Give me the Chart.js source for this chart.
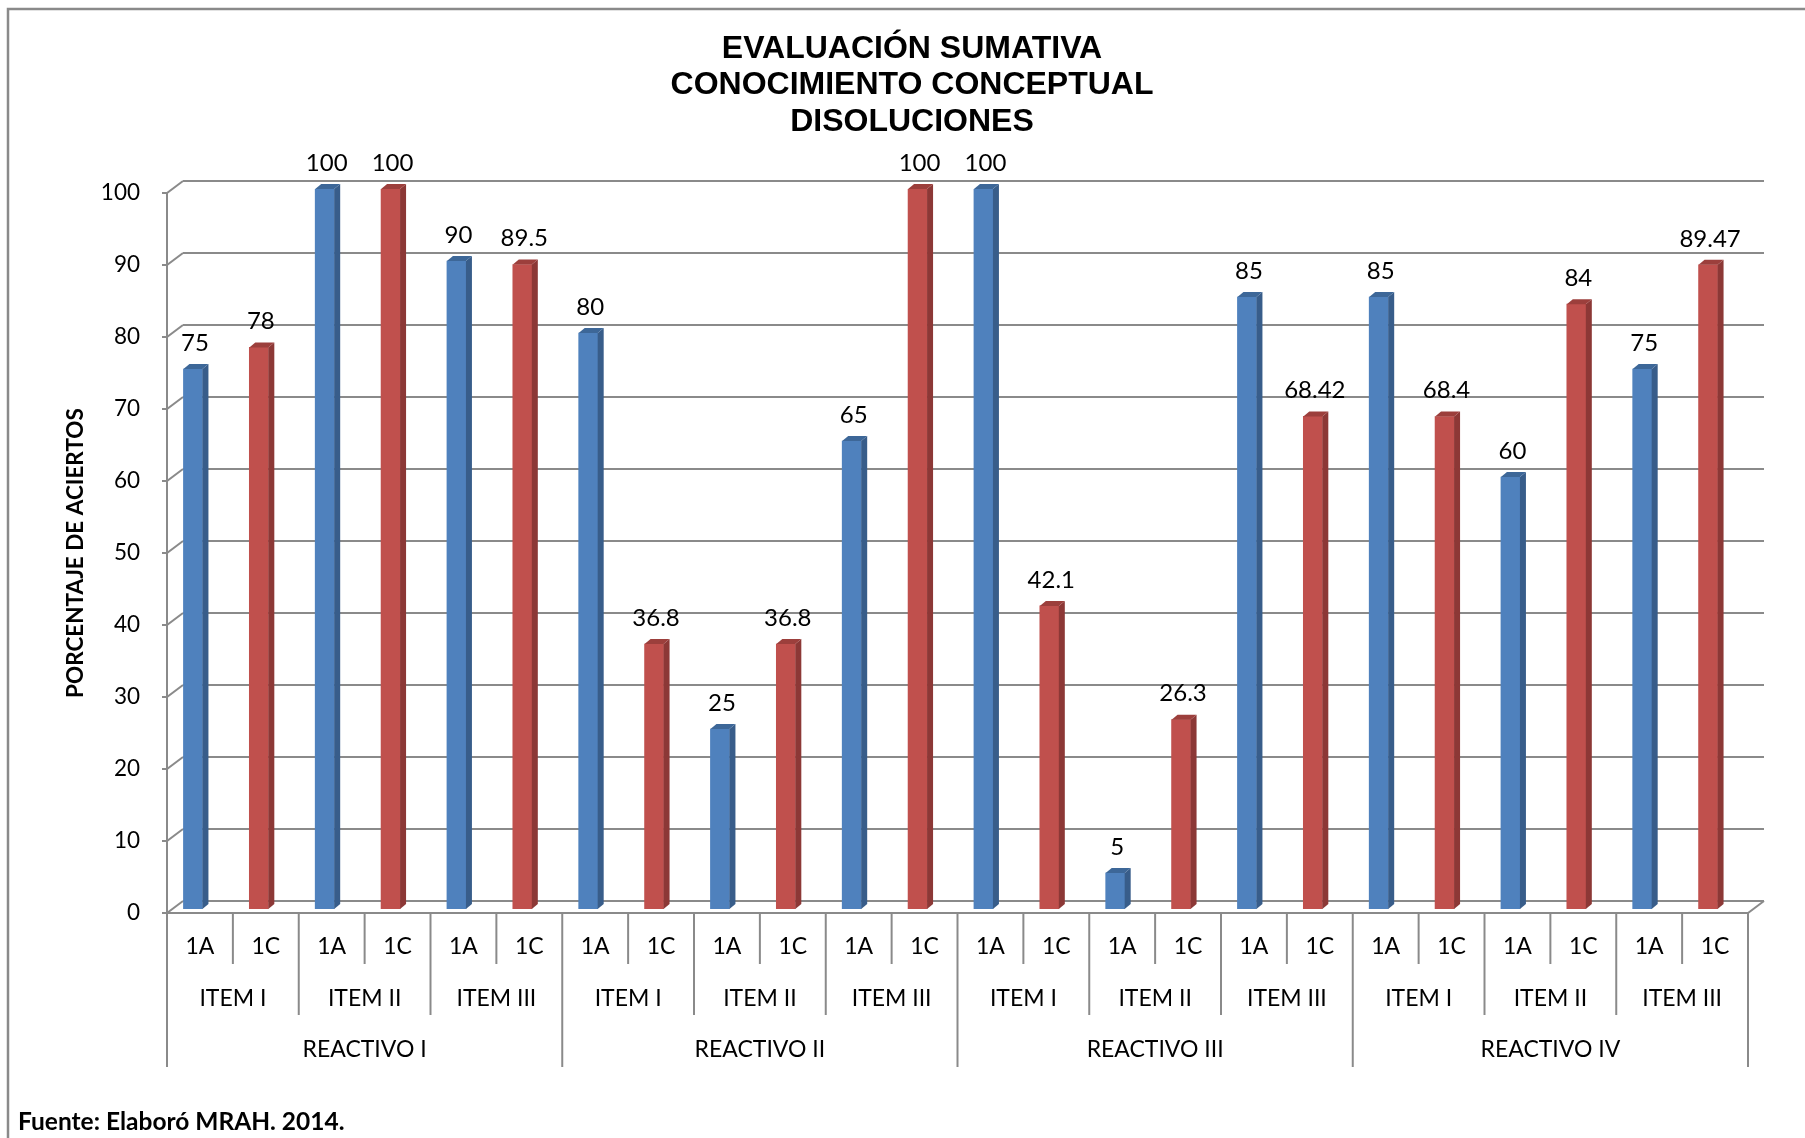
<!DOCTYPE html>
<html>
<head>
<meta charset="utf-8">
<script src="https://cdn.jsdelivr.net/npm/chart.js@4.4.0/dist/chart.umd.min.js"></script>
<style>
  html, body { margin: 0; padding: 0; background: #fff; }
  canvas { display: block; }
</style>
</head>
<body>
<canvas id="graph" width="1805" height="1138"></canvas>
<script>
const groups = ["1A", "1C"]
const items = ["ITEM I", "ITEM II", "ITEM III"]
const reactivos = ["REACTIVO I", "REACTIVO II", "REACTIVO III", "REACTIVO IV"]
const valores1A = [75, 100, 90, 80, 25, 65, 100, 5, 85, 85, 60, 75]
const valores1C = [78, 100, 89.5, 36.8, 36.8, 100, 42.1, 26.3, 68.42, 68.4, 84, 89.47]
const yTicks = [0, 10, 20, 30, 40, 50, 60, 70, 80, 90, 100]
const titulo = ["EVALUACIÓN SUMATIVA", "CONOCIMIENTO CONCEPTUAL", "DISOLUCIONES"]

// one category per bar: 1A, 1C, 1A, 1C ...
const labels = []
const data1A = []
const data1C = []
valores1A.forEach((v, i) => {
    labels.push(groups[0], groups[1])
    data1A.push(v, null)
    data1C.push(null, valores1C[i])
})

const gray = '#8a8a8a'
const front = { dx: 7, dy: 4 }     // front plane of the 3d box, relative to bars
const back = { dx: 23, dy: -8 }    // back wall
const side = { w: 6, h: 5 }        // bar depth

const box3d = {
    id: 'box3d',
    beforeDraw(chart) {
        const c = chart.ctx
        c.save()
        c.fillStyle = '#fff'
        c.fillRect(0, 0, chart.width, chart.height)
        c.strokeStyle = gray
        c.lineWidth = 2.5
        c.strokeRect(8, 9, chart.width + 20, chart.height + 20)

        c.fillStyle = '#000'
        c.textAlign = 'center'
        c.textBaseline = 'middle'
        c.font = 'bold 32px "Liberation Sans", Arial, sans-serif'
        titulo.forEach((t, i) => c.fillText(t, 912, 49 + i * 36.5))

        c.font = 'bold 22.5px Lato, sans-serif'
        c.translate(76, 553)
        c.rotate(-Math.PI / 2)
        c.fillText("PORCENTAJE DE ACIERTOS", 0, 0)
        c.restore()

        c.save()
        c.fillStyle = '#000'
        c.font = 'bold 24.5px Lato, sans-serif'
        c.textBaseline = 'middle'
        c.fillText("Fuente: Elaboró MRAH. 2014.", 18, 1122)
        c.restore()
    },
    beforeDatasetsDraw(chart) {
        const c = chart.ctx
        const x = chart.scales.x
        const y = chart.scales.y
        const a = chart.chartArea
        const fl = a.left + front.dx, fr = a.right + front.dx
        const bl = a.left + back.dx, br = a.right + back.dx
        c.save()
        c.strokeStyle = gray
        c.lineWidth = 2
        // back wall gridlines and connectors to the front axis
        yTicks.forEach(v => {
            const py = y.getPixelForValue(v)
            c.beginPath()
            c.moveTo(bl, py + back.dy)
            c.lineTo(br, py + back.dy)
            c.moveTo(fl - 5, py + front.dy)
            c.lineTo(fl, py + front.dy)
            c.lineTo(bl, py + back.dy)
            c.stroke()
        })
        const y0 = y.getPixelForValue(0) + front.dy
        const y100 = y.getPixelForValue(100) + front.dy
        c.beginPath()
        c.moveTo(fl, y100)
        c.lineTo(fl, y0)
        c.lineTo(fr, y0)
        c.lineTo(br, y.getPixelForValue(0) + back.dy)
        c.stroke()

        // category separators and labels
        const w = (a.right - a.left) / labels.length
        for (let i = 0; i <= labels.length; i++) {
            const px = fl + i * w
            let len = 51
            if (i % 6 === 0) len = 154
            else if (i % 2 === 0) len = 102
            c.beginPath()
            c.moveTo(px, y0)
            c.lineTo(px, y0 + len)
            c.stroke()
        }
        c.fillStyle = '#000'
        c.textAlign = 'center'
        c.textBaseline = 'middle'
        c.font = '23px Lato, sans-serif'
        labels.forEach((l, i) => c.fillText(l, x.getPixelForValue(i) + front.dx, y0 + 34))
        for (let i = 0; i < 12; i++) {
            const cx = fl + (i * 2 + 1) * w
            c.fillText(items[i % 3], cx, y0 + 86)
        }
        reactivos.forEach((r, i) => c.fillText(r, fl + (i * 6 + 3) * w, y0 + 137))
        c.restore()
    },
    afterDatasetsDraw(chart) {
        const c = chart.ctx
        c.save()
        chart.data.datasets.forEach((ds, di) => {
            const meta = chart.getDatasetMeta(di)
            meta.data.forEach((bar, i) => {
                if (ds.data[i] === null) return
                const { x, y, base, width } = bar.getProps(['x', 'y', 'base', 'width'])
                const l = x - width / 2, r = x + width / 2
                c.fillStyle = ds.sideColor
                c.beginPath()
                c.moveTo(r, y)
                c.lineTo(r + side.w, y - side.h)
                c.lineTo(r + side.w, base - side.h)
                c.lineTo(r, base)
                c.closePath()
                c.fill()
                c.fillStyle = ds.topColor
                c.beginPath()
                c.moveTo(l, y)
                c.lineTo(l + side.w, y - side.h)
                c.lineTo(r + side.w, y - side.h)
                c.lineTo(r, y)
                c.closePath()
                c.fill()
                c.fillStyle = '#000'
                c.font = '24px Lato, sans-serif'
                c.textAlign = 'center'
                c.textBaseline = 'middle'
                c.fillText(String(ds.data[i]), x + 2, y - 26)
            })
        })
        c.restore()
    }
}

const config = {
    type: 'bar',
    data: {
        labels: labels,
        datasets: [
            {
                label: groups[0],
                data: data1A,
                backgroundColor: '#4f81bd',
                sideColor: '#385d8a',
                topColor: '#3d6798',
                grouped: false,
                barThickness: 19,
            },
            {
                label: groups[1],
                data: data1C,
                backgroundColor: '#c0504d',
                sideColor: '#8c3836',
                topColor: '#9c3f3c',
                grouped: false,
                barThickness: 19,
            },
        ],
    },
    options: {
        responsive: false,
        animation: false,
        devicePixelRatio: 1,
        layout: { padding: { top: 189, right: 64, bottom: 0, left: 0 } },
        plugins: {
            legend: { display: false },
            tooltip: { enabled: false },
        },
        scales: {
            x: {
                grid: { display: false, drawTicks: false },
                border: { display: false },
                ticks: { display: false },
                afterFit(s) { s.height = 229 },
            },
            y: {
                min: 0,
                max: 100,
                grid: { display: false, drawTicks: false },
                border: { display: false },
                ticks: {
                    stepSize: 10,
                    padding: 20,
                    labelOffset: 4,
                    color: '#000',
                    font: { family: 'Lato', size: 22.5 },
                },
                afterFit(s) { s.width = 160 },
            },
        },
    },
    plugins: [box3d],
}

let myChart = new Chart(
    document.getElementById("graph").getContext("2d"),
    config
);
</script>
</body>
</html>
